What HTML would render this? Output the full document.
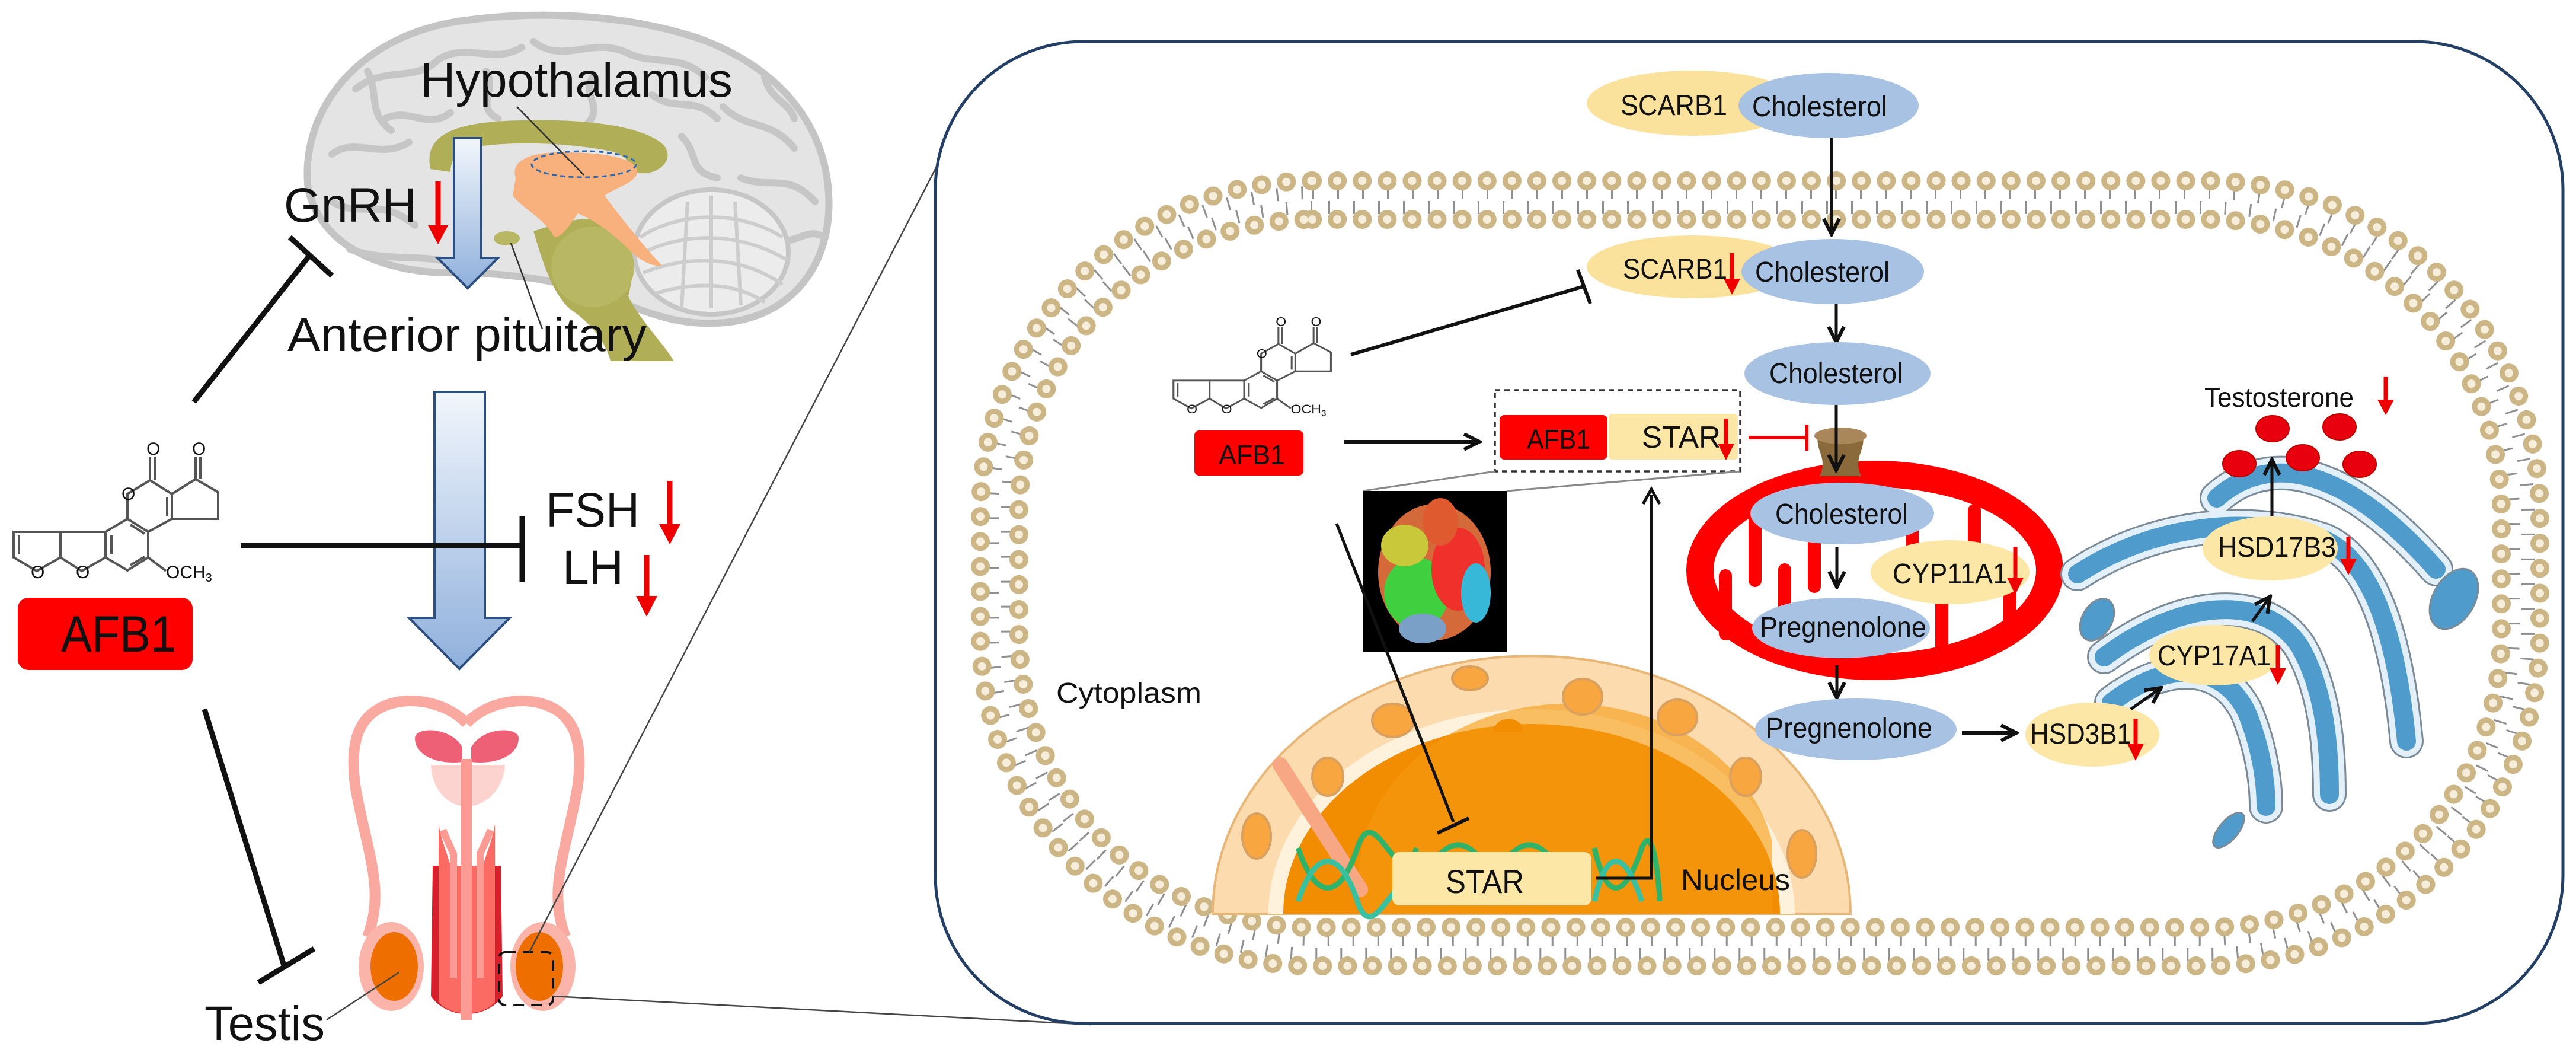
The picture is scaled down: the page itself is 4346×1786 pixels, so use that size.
<!DOCTYPE html>
<html><head><meta charset="utf-8"><style>
html,body{margin:0;padding:0;background:#fff;}
svg{display:block;}
text{font-family:"Liberation Sans",Arial,sans-serif;fill:#111;}
</style></head><body>
<svg width="4346" height="1786" viewBox="0 0 4346 1786" xmlns="http://www.w3.org/2000/svg">
<defs>
<marker id="ah" markerWidth="10" markerHeight="10" refX="9" refY="5" orient="auto" markerUnits="userSpaceOnUse" viewBox="0 0 10 10">
<path d="M0,0 L10,5 L0,10" fill="none" stroke="#111" stroke-width="2"/></marker>
<marker id="ahb" markerWidth="34" markerHeight="34" refX="30" refY="17" orient="auto" markerUnits="userSpaceOnUse">
<path d="M4,4 L30,17 L4,30" fill="none" stroke="#111" stroke-width="6"/></marker>
<linearGradient id="bl" x1="0" y1="0" x2="0" y2="1"><stop offset="0" stop-color="#f2f6fc"/><stop offset="1" stop-color="#8fb0dc"/></linearGradient>
<g id="afb">
<g fill="none" stroke="#555" stroke-width="4">
<path d="M1,142 L1,185 L40,208 L80,185 L80,142 Z"/><path d="M10,148 L10,180"/>
<path d="M80,142 L80,185 L116,208 L156,185 L156,142 Z"/>
<path d="M156,142 L156,185 L193,207 L228,185 L228,142 L193,120 Z"/><path d="M166,148 L166,180 M198,198 L222,184 M222,145 L198,130"/>
<path d="M193,120 L193,78 L231,55 L268,78 L268,120 L228,142"/><path d="M260,84 L260,116"/>
<path d="M231,55 L231,15 M239,55 L239,15"/>
<path d="M268,78 L308,53 L346,75 L346,120 L268,120"/>
<path d="M308,53 L308,15 M316,53 L316,15"/>
<path d="M228,185 L258,208"/>
</g>
<g font-family="Liberation Serif,serif" font-size="30" fill="#555">
<text x="225" y="12">O</text><text x="302" y="12">O</text><text x="183" y="88">O</text><text x="30" y="220">O</text><text x="106" y="220">O</text><text x="258" y="220">OCH<tspan font-size="20" dy="6">3</tspan></text></g>
</g>
</defs>

<!-- ================= LEFT PANEL ================= -->
<!-- brain -->
<path d="M520,320 C505,190 600,60 780,35 C900,18 1050,22 1180,65 C1330,120 1405,230 1398,360 C1392,450 1340,520 1250,540 C1150,560 1080,520 1020,500 C940,470 850,460 760,460 C650,460 545,420 520,320Z" fill="#e4e4e4" stroke="#c4c4c4" stroke-width="12"/>
<g fill="none" stroke="#c6c6c6" stroke-width="12" stroke-linecap="round">
<path d="M600,150 C650,110 700,140 740,100 C790,70 830,110 880,80"/>
<path d="M900,70 C950,110 1000,60 1060,90 C1100,110 1150,90 1190,130"/>
<path d="M560,260 C600,230 640,270 690,240"/>
<path d="M1220,180 C1260,220 1300,200 1340,250"/>
<path d="M1250,300 C1300,320 1330,290 1375,340"/>
<path d="M560,340 C610,370 640,330 700,380"/>
<path d="M650,200 C690,180 720,220 760,190"/>
<path d="M1100,160 C1140,190 1170,160 1210,200"/>
<path d="M620,120 C640,160 620,190 660,220"/>
<path d="M820,120 C840,150 800,180 840,200"/>
<path d="M1000,130 C980,160 1020,180 990,210"/>
<path d="M1150,230 C1180,260 1160,290 1210,300"/>
<path d="M1290,130 C1300,170 1330,170 1340,200"/>
<path d="M590,420 C640,440 700,430 750,440"/>
<path d="M1300,400 C1340,420 1360,380 1390,400"/>
</g>
<!-- cerebellum -->
<ellipse cx="1200" cy="425" rx="130" ry="105" fill="#ececec" stroke="#c6c6c6" stroke-width="8"/>
<g fill="none" stroke="#cdcdcd" stroke-width="6">
<path d="M1080,400 C1140,360 1240,350 1320,400"/><path d="M1078,430 C1150,390 1250,390 1330,440"/><path d="M1085,460 C1160,430 1250,430 1320,480"/><path d="M1105,495 C1170,475 1240,475 1290,510"/>
<path d="M1200,330 L1200,520 M1160,340 L1150,520 M1240,340 L1250,515"/></g>
<!-- olive structures -->
<path d="M726,285 C715,230 760,205 880,203 C1000,200 1090,215 1120,245 C1140,270 1110,295 1080,292 C1060,290 1070,265 1030,255 C960,240 860,238 800,248 C770,255 760,270 760,290Z" fill="#b0af58"/>
<path d="M900,390 C960,370 1000,360 1040,380 C1070,420 1070,460 1060,500 C1080,540 1120,580 1137,609 L1030,609 C1020,570 990,540 960,520 C930,490 915,440 900,390Z" fill="#b0af58"/>
<ellipse cx="1000" cy="450" rx="70" ry="68" fill="#b7b764"/>
<path d="M880,330 C900,300 930,295 950,320 C930,350 900,360 880,330Z" fill="#b0af58"/>
<!-- hypothalamus orange -->
<path d="M870,300 C860,268 900,255 960,257 C1030,258 1080,270 1075,292 C1070,310 1040,315 1020,330 C1050,370 1090,420 1117,448 C1100,450 1080,440 1060,420 C1030,390 1000,370 975,360 C960,380 950,400 935,400 C920,370 880,350 865,330Z" fill="#f8b07c"/>
<ellipse cx="985" cy="277" rx="88" ry="22" fill="none" stroke="#2e68b0" stroke-width="3" stroke-dasharray="8 6"/>
<ellipse cx="855" cy="402" rx="22" ry="12" fill="#b7b764"/>
<line x1="872" y1="180" x2="985" y2="295" stroke="#333" stroke-width="2.5"/>
<line x1="862" y1="410" x2="915" y2="555" stroke="#333" stroke-width="2.5"/>
<!-- blue arrow 1 -->
<path d="M766,233 L812,233 L812,435 L840,435 L789,486 L738,435 L766,435Z" fill="url(#bl)" stroke="#2c4f80" stroke-width="4"/>
<text x="709" y="163" font-size="82" textLength="527" lengthAdjust="spacingAndGlyphs">Hypothalamus</text>
<text x="479" y="374" font-size="82" textLength="224" lengthAdjust="spacingAndGlyphs">GnRH</text>
<path d="M739,306 L739,385" stroke="#e00" stroke-width="9"/><path d="M722,380 L756,380 L739,412Z" fill="#e00"/>
<text x="485" y="592" font-size="80" textLength="606" lengthAdjust="spacingAndGlyphs">Anterior pituitary</text>
<!-- blue arrow 2 -->
<path d="M733,661 L818,661 L818,1042 L860,1042 L775,1128 L690,1042 L733,1042Z" fill="url(#bl)" stroke="#2c4f80" stroke-width="4"/>
<!-- FSH LH -->
<text x="921" y="888" font-size="82" textLength="158" lengthAdjust="spacingAndGlyphs">FSH</text>
<text x="949" y="985" font-size="82" textLength="103" lengthAdjust="spacingAndGlyphs">LH</text>
<path d="M1130,811 L1130,890" stroke="#e00" stroke-width="9"/><path d="M1112,884 L1148,884 L1130,918Z" fill="#e00"/>
<path d="M1091,936 L1091,1010" stroke="#e00" stroke-width="9"/><path d="M1073,1005 L1109,1005 L1091,1040Z" fill="#e00"/>
<!-- inhibition lines -->
<g stroke="#111" stroke-width="9" fill="none">
<line x1="406" y1="920" x2="881" y2="920"/><line x1="881" y1="870" x2="881" y2="982"/>
<line x1="327" y1="678" x2="523" y2="430"/><line x1="489" y1="400" x2="560" y2="465"/>
<line x1="345" y1="1196" x2="479" y2="1628"/><line x1="436" y1="1657" x2="530" y2="1600"/>
</g>
<!-- AFB1 structure left -->
<use href="#afb" transform="translate(22,755)"/>
<rect x="30" y="1008" width="295" height="122" rx="18" fill="#f00"/>
<text x="103" y="1099" font-size="86" textLength="194" lengthAdjust="spacingAndGlyphs">AFB1</text>
<!-- reproductive -->
<path d="M787,1220 C760,1190 700,1170 650,1190 C600,1210 590,1260 600,1330 C620,1440 650,1500 620,1580" fill="none" stroke="#f9a9a0" stroke-width="18"/>
<path d="M787,1220 C814,1190 874,1170 924,1190 C974,1210 984,1260 974,1330 C954,1440 924,1500 954,1580" fill="none" stroke="#f9a9a0" stroke-width="18"/>
<ellipse cx="660" cy="1630" rx="55" ry="75" fill="#fbb4aa"/>
<ellipse cx="916" cy="1630" rx="55" ry="75" fill="#fbb4aa"/>
<ellipse cx="665" cy="1630" rx="40" ry="58" fill="#ee6f00"/>
<ellipse cx="910" cy="1630" rx="40" ry="58" fill="#ee6f00"/>
<path d="M700,1245 C700,1225 760,1225 780,1260 L780,1285 C740,1290 700,1275 700,1245Z" fill="#ee6075"/>
<path d="M875,1245 C875,1225 815,1225 795,1260 L795,1285 C835,1290 875,1275 875,1245Z" fill="#ee6075"/>
<path d="M727,1290 L852,1290 C850,1330 820,1360 787,1360 C755,1360 728,1330 727,1290Z" fill="#fdd3cf"/>
<path d="M730,1460 L845,1460 L848,1680 C820,1720 755,1720 727,1680Z" fill="#d8202c"/>
<path d="M740,1390 C745,1420 755,1440 760,1460 L815,1460 C820,1440 830,1420 835,1390 L835,1690 C815,1715 760,1715 740,1690Z" fill="#fb6a63"/>
<rect x="778" y="1280" width="18" height="440" fill="#fb9b93"/>
<path d="M747,1400 L765,1440 L765,1650" stroke="#fb9b93" stroke-width="12" fill="none"/>
<path d="M828,1400 L810,1440 L810,1650" stroke="#fb9b93" stroke-width="12" fill="none"/>
<rect x="842" y="1606" width="91" height="89" rx="10" fill="none" stroke="#111" stroke-width="4" stroke-dasharray="18 12"/>
<line x1="551" y1="1720" x2="673" y2="1640" stroke="#444" stroke-width="2.5"/>
<text x="345" y="1754" font-size="82" textLength="203" lengthAdjust="spacingAndGlyphs">Testis</text>
<!-- zoom lines -->
<line x1="893" y1="1606" x2="1590" y2="262" stroke="#444" stroke-width="2.5"/>
<line x1="933" y1="1680" x2="1840" y2="1728" stroke="#444" stroke-width="2.5"/>

<!-- ================= RIGHT PANEL ================= -->
<rect x="1578" y="70" width="2746" height="1656" rx="250" ry="250" fill="#fff" stroke="#243f66" stroke-width="5"/>
<!-- membrane -->
<g fill="none">
<rect x="1674" y="325" width="2591" height="1284" rx="540" ry="540" stroke="#8f8f8f" stroke-width="22" stroke-dasharray="3 39"/>
<rect x="1699" y="350" width="2541" height="1234" rx="515" ry="515" stroke="#8f8f8f" stroke-width="22" stroke-dasharray="3 39" stroke-dashoffset="15"/>
<rect x="1654" y="305" width="2631" height="1324" rx="560" ry="560" stroke="#cdb686" stroke-width="32" stroke-linecap="round" stroke-dasharray="0.1 42"/>
<rect x="1654" y="305" width="2631" height="1324" rx="560" ry="560" stroke="#f6eedb" stroke-width="14" stroke-linecap="round" stroke-dasharray="0.1 42"/>
<rect x="1719" y="370" width="2501" height="1194" rx="495" ry="495" stroke="#cdb686" stroke-width="32" stroke-linecap="round" stroke-dasharray="0.1 42"/>
<rect x="1719" y="370" width="2501" height="1194" rx="495" ry="495" stroke="#f6eedb" stroke-width="14" stroke-linecap="round" stroke-dasharray="0.1 42"/>
</g>
<text x="1782" y="1185" font-size="48" textLength="245" lengthAdjust="spacingAndGlyphs">Cytoplasm</text>

<!-- SCARB1 / Cholesterol top -->
<ellipse cx="2855" cy="174" rx="178" ry="55" fill="#fbe29c"/>
<ellipse cx="3085" cy="178" rx="152" ry="55" fill="#a8c2e4"/>
<text x="2734" y="194" font-size="48" textLength="180" lengthAdjust="spacingAndGlyphs">SCARB1</text>
<text x="2956" y="196" font-size="48" textLength="228" lengthAdjust="spacingAndGlyphs">Cholesterol</text>
<line x1="3090" y1="233" x2="3090" y2="395" stroke="#111" stroke-width="5" marker-end="url(#ahb)"/>
<!-- SCARB1 2 -->
<ellipse cx="2855" cy="450" rx="178" ry="53" fill="#fbe29c"/>
<ellipse cx="3092" cy="458" rx="154" ry="55" fill="#a8c2e4"/>
<text x="2738" y="470" font-size="48" textLength="176" lengthAdjust="spacingAndGlyphs">SCARB1</text>
<path d="M2922,427 L2922,475" stroke="#e00" stroke-width="7"/><path d="M2908,470 L2936,470 L2922,497Z" fill="#e00"/>
<text x="2961" y="475" font-size="48" textLength="227" lengthAdjust="spacingAndGlyphs">Cholesterol</text>
<line x1="3098" y1="512" x2="3098" y2="577" stroke="#111" stroke-width="5" marker-end="url(#ahb)"/>
<ellipse cx="3100" cy="630" rx="157" ry="53" fill="#a8c2e4"/>
<text x="2985" y="646" font-size="48" textLength="225" lengthAdjust="spacingAndGlyphs">Cholesterol</text>
<!-- AFB1 cell structure -->
<use href="#afb" transform="translate(1979,541) scale(0.77,0.71)"/>
<line x1="2279" y1="598" x2="2672" y2="483" stroke="#111" stroke-width="6"/>
<line x1="2662" y1="455" x2="2683" y2="512" stroke="#111" stroke-width="6"/>
<rect x="2015" y="726" width="184" height="76" rx="8" fill="#f00"/>
<text x="2056" y="783" font-size="46" textLength="112" lengthAdjust="spacingAndGlyphs">AFB1</text>
<line x1="2268" y1="745" x2="2496" y2="745" stroke="#111" stroke-width="6" marker-end="url(#ahb)"/>
<!-- dashed box -->
<rect x="2522" y="658" width="414" height="137" fill="none" stroke="#333" stroke-width="3.5" stroke-dasharray="9 7"/>
<rect x="2530" y="700" width="182" height="75" rx="8" fill="#f00"/>
<rect x="2714" y="698" width="218" height="77" rx="6" fill="#fde7a6"/>
<text x="2576" y="757" font-size="46" textLength="107" lengthAdjust="spacingAndGlyphs">AFB1</text>
<text x="2770" y="755" font-size="52" textLength="133" lengthAdjust="spacingAndGlyphs">STAR</text>
<path d="M2912,706 L2912,752" stroke="#e00" stroke-width="7"/><path d="M2898,748 L2926,748 L2912,776Z" fill="#e00"/>
<line x1="2950" y1="738" x2="3046" y2="738" stroke="#e00" stroke-width="6"/><line x1="3048" y1="716" x2="3048" y2="760" stroke="#e00" stroke-width="6"/>
<line x1="2522" y1="795" x2="2299" y2="828" stroke="#888" stroke-width="3"/>
<line x1="2936" y1="795" x2="2542" y2="828" stroke="#888" stroke-width="3"/>
<!-- protein -->
<rect x="2299" y="828" width="243" height="272" fill="#000"/>
<ellipse cx="2420" cy="965" rx="95" ry="115" fill="#d46a3a"/>
<ellipse cx="2390" cy="1000" rx="55" ry="60" fill="#3fcf3f"/>
<ellipse cx="2460" cy="960" rx="45" ry="70" fill="#f0302a"/>
<ellipse cx="2490" cy="1000" rx="25" ry="50" fill="#38b8d8"/>
<ellipse cx="2370" cy="920" rx="40" ry="35" fill="#c8c83a"/>
<ellipse cx="2430" cy="880" rx="30" ry="40" fill="#e05a30"/>
<ellipse cx="2400" cy="1060" rx="40" ry="25" fill="#7aa0c8"/>
<!-- nucleus -->
<path d="M2046,1541 A538,435 0 0 1 3122,1541Z" fill="#fcdcae" stroke="#e8b778" stroke-width="4"/>
<path d="M2140,1541 A444,345 0 0 1 3028,1541Z" fill="#fff2dd"/>
<path d="M2165,1541 A419,320 0 0 1 3003,1541Z" fill="#f28c00"/>
<path d="M2300,1541 A300,250 0 0 1 2990,1420 L2990,1541Z" fill="#f59a10" opacity="0.6"/>
<g fill="#f7a640" stroke="#d9a060" stroke-width="4">
<ellipse cx="2480" cy="1144" rx="30" ry="20"/><ellipse cx="2350" cy="1215" rx="35" ry="28"/>
<ellipse cx="2670" cy="1175" rx="33" ry="30"/><ellipse cx="2830" cy="1210" rx="33" ry="30"/>
<ellipse cx="2120" cy="1410" rx="24" ry="38"/><ellipse cx="3040" cy="1440" rx="24" ry="40"/>
<ellipse cx="2240" cy="1310" rx="26" ry="32"/><ellipse cx="2945" cy="1310" rx="26" ry="32"/>
</g>
<path d="M2520,1235 C2520,1205 2570,1205 2570,1235Z" fill="#f28c00"/>
<path d="M2160,1290 L2295,1500" stroke="#f7a783" stroke-width="26" stroke-linecap="round"/>
<!-- DNA -->
<g fill="none" stroke-width="9">
<path d="M2190,1430 C2220,1520 2260,1520 2290,1430 C2320,1340 2360,1520 2390,1430" stroke="#2fb36a"/>
<path d="M2190,1520 C2220,1430 2260,1430 2290,1520 C2320,1610 2360,1430 2390,1520" stroke="#38c0a0"/>
<path d="M2690,1430 C2710,1520 2740,1520 2770,1430 C2790,1380 2800,1500 2800,1520" stroke="#2fb36a"/>
<path d="M2690,1520 C2710,1430 2740,1430 2770,1520" stroke="#38c0a0"/>
<path d="M2430,1440 C2450,1420 2470,1420 2490,1440 M2550,1440 C2570,1420 2590,1420 2610,1440" stroke="#2fb36a"/>
</g>
<rect x="2349" y="1437" width="336" height="90" rx="12" fill="#fde7a6"/>
<text x="2439" y="1506" font-size="56" textLength="132" lengthAdjust="spacingAndGlyphs">STAR</text>
<text x="2836" y="1501" font-size="50" textLength="184" lengthAdjust="spacingAndGlyphs">Nucleus</text>
<polyline points="2693,1481 2786,1481 2786,835" fill="none" stroke="#111" stroke-width="5"/>
<path d="M2772,850 L2786,825 L2800,850" fill="none" stroke="#111" stroke-width="5"/>
<line x1="2255" y1="883" x2="2452" y2="1386" stroke="#111" stroke-width="5"/>
<line x1="2425" y1="1405" x2="2478" y2="1380" stroke="#111" stroke-width="6"/>

<!-- mitochondrion -->
<ellipse cx="3163" cy="962" rx="318" ry="185" fill="#f00"/>
<ellipse cx="3163" cy="962" rx="272" ry="140" fill="#fff"/>
<g fill="#f00">
<rect x="2900" y="960" width="22" height="120" rx="11"/><rect x="2950" y="850" width="22" height="140" rx="11"/>
<rect x="3000" y="950" width="22" height="150" rx="11"/><rect x="3050" y="850" width="22" height="150" rx="11"/>
<rect x="3215" y="850" width="22" height="130" rx="11"/><rect x="3265" y="950" width="22" height="150" rx="11"/>
<rect x="3320" y="850" width="22" height="150" rx="11"/><rect x="3380" y="940" width="22" height="120" rx="11"/>
</g>
<path d="M3068,729 C3060,760 3085,770 3070,803 L3140,803 C3125,770 3150,760 3142,729Z" fill="#8a6a3a"/>
<ellipse cx="3105" cy="735" rx="44" ry="14" fill="#a9875a"/>
<line x1="3098" y1="683" x2="3098" y2="793" stroke="#111" stroke-width="5" marker-end="url(#ahb)"/>
<ellipse cx="3108" cy="866" rx="155" ry="52" fill="#a8c2e4"/>
<text x="2995" y="883" font-size="48" textLength="224" lengthAdjust="spacingAndGlyphs">Cholesterol</text>
<line x1="3099" y1="922" x2="3099" y2="990" stroke="#111" stroke-width="5" marker-end="url(#ahb)"/>
<ellipse cx="3290" cy="965" rx="134" ry="54" fill="#fde7a6"/>
<text x="3193" y="984" font-size="48" textLength="194" lengthAdjust="spacingAndGlyphs">CYP11A1</text>
<path d="M3400,922 L3400,978" stroke="#e00" stroke-width="7"/><path d="M3386,974 L3414,974 L3400,1003Z" fill="#e00"/>
<ellipse cx="3106" cy="1059" rx="150" ry="51" fill="#a8c2e4"/>
<text x="2969" y="1074" font-size="48" textLength="281" lengthAdjust="spacingAndGlyphs">Pregnenolone</text>
<line x1="3099" y1="1122" x2="3099" y2="1177" stroke="#111" stroke-width="5" marker-end="url(#ahb)"/>
<ellipse cx="3131" cy="1230" rx="170" ry="52" fill="#a8c2e4"/>
<text x="2979" y="1244" font-size="48" textLength="281" lengthAdjust="spacingAndGlyphs">Pregnenolone</text>
<line x1="3310" y1="1236" x2="3402" y2="1236" stroke="#111" stroke-width="6" marker-end="url(#ahb)"/>

<!-- golgi -->
<g fill="none" stroke-linecap="round">
<g stroke="#7a8a96" stroke-width="58"><path d="M3740,840 C3830,760 3960,790 4110,960"/><path d="M3505,968 C3640,880 3800,870 3920,910 C3990,940 4040,1040 4060,1250"/><path d="M3550,1108 C3680,1010 3820,1000 3880,1090 C3920,1160 3930,1250 3930,1340"/><path d="M3562,1185 C3660,1110 3750,1120 3790,1200 C3815,1260 3823,1320 3823,1360"/></g>
<g stroke="#e3f0f9" stroke-width="52"><path d="M3740,840 C3830,760 3960,790 4110,960"/><path d="M3505,968 C3640,880 3800,870 3920,910 C3990,940 4040,1040 4060,1250"/><path d="M3550,1108 C3680,1010 3820,1000 3880,1090 C3920,1160 3930,1250 3930,1340"/><path d="M3562,1185 C3660,1110 3750,1120 3790,1200 C3815,1260 3823,1320 3823,1360"/></g>
<g stroke="#4f9ccc" stroke-width="32"><path d="M3740,840 C3830,760 3960,790 4110,960"/><path d="M3505,968 C3640,880 3800,870 3920,910 C3990,940 4040,1040 4060,1250"/><path d="M3550,1108 C3680,1010 3820,1000 3880,1090 C3920,1160 3930,1250 3930,1340"/><path d="M3562,1185 C3660,1110 3750,1120 3790,1200 C3815,1260 3823,1320 3823,1360"/></g>
</g>
<g fill="#4f9ccc" stroke="#7a8a96" stroke-width="3">
<ellipse cx="3538" cy="1045" rx="25" ry="38" transform="rotate(30 3538 1045)"/>
<ellipse cx="4140" cy="1010" rx="35" ry="55" transform="rotate(30 4140 1010)"/>
<ellipse cx="3760" cy="1400" rx="16" ry="36" transform="rotate(40 3760 1400)"/>
</g>
<ellipse cx="3530" cy="1239" rx="113" ry="54" fill="#fde7a6"/>
<text x="3425" y="1254" font-size="48" textLength="171" lengthAdjust="spacingAndGlyphs">HSD3B1</text>
<path d="M3603,1212 L3603,1258" stroke="#e00" stroke-width="7"/><path d="M3589,1254 L3617,1254 L3603,1283Z" fill="#e00"/>
<line x1="3595" y1="1196" x2="3646" y2="1160" stroke="#111" stroke-width="5" marker-end="url(#ahb)"/>
<ellipse cx="3736" cy="1105" rx="110" ry="51" fill="#fde7a6"/>
<text x="3640" y="1122" font-size="48" textLength="191" lengthAdjust="spacingAndGlyphs">CYP17A1</text>
<path d="M3843,1088 L3843,1130" stroke="#e00" stroke-width="7"/><path d="M3829,1127 L3857,1127 L3843,1155Z" fill="#e00"/>
<line x1="3800" y1="1048" x2="3830" y2="1006" stroke="#111" stroke-width="5" marker-end="url(#ahb)"/>
<ellipse cx="3830" cy="925" rx="114" ry="54" fill="#fde7a6"/>
<text x="3742" y="939" font-size="48" textLength="199" lengthAdjust="spacingAndGlyphs">HSD17B3</text>
<path d="M3962,905 L3962,945" stroke="#e00" stroke-width="7"/><path d="M3948,942 L3976,942 L3962,970Z" fill="#e00"/>
<line x1="3833" y1="871" x2="3833" y2="775" stroke="#111" stroke-width="5" marker-end="url(#ahb)"/>
<g fill="#e8000f" stroke="#b00" stroke-width="2">
<ellipse cx="3834" cy="723" rx="28" ry="22"/><ellipse cx="3947" cy="720" rx="28" ry="22"/>
<ellipse cx="3778" cy="782" rx="28" ry="22"/><ellipse cx="3885" cy="772" rx="28" ry="22"/><ellipse cx="3981" cy="783" rx="28" ry="22"/>
</g>
<text x="3719" y="686" font-size="46" textLength="252" lengthAdjust="spacingAndGlyphs">Testosterone</text>
<path d="M4025,635 L4025,678" stroke="#e00" stroke-width="7"/><path d="M4011,674 L4039,674 L4025,700Z" fill="#e00"/>
</svg>
</body></html>
